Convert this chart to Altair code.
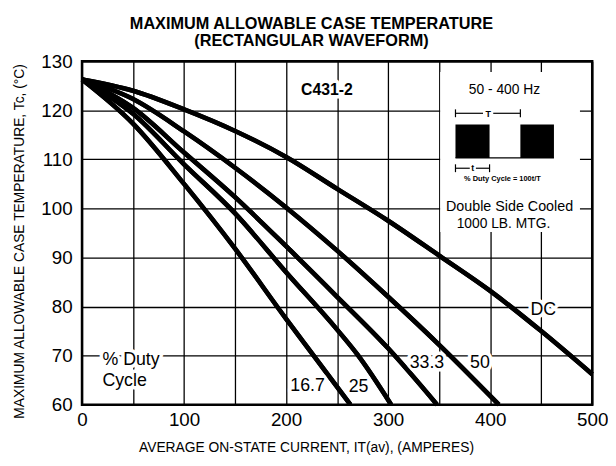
import altair as alt
import pandas as pd

# ---- data ----
current_dc = [0, 50, 100, 150, 200, 250, 300, 350, 400, 450, 500]
temp_dc = [126.3, 124.0, 120.2, 115.8, 110.5, 104.0, 97.5, 90.4, 83.2, 75.0, 66.2]
current_50 = [0, 50, 100, 150, 200, 250, 300, 350, 400, 408.5]
temp_50 = [126.3, 122.3, 115.7, 108.3, 100.2, 91.4, 82.0, 72.2, 61.8, 60.0]
current_333 = [0, 50, 100, 150, 200, 250, 300, 348]
temp_333 = [126.3, 120.5, 111.4, 102.3, 92.3, 82.0, 71.5, 60.0]
current_25 = [0, 50, 100, 150, 200, 250, 270, 303]
temp_25 = [126.3, 119.3, 109.0, 99.0, 87.0, 75.3, 70.2, 60.0]
current_167 = [0, 50, 100, 150, 200, 227, 263]
temp_167 = [126.3, 117.3, 105.0, 91.8, 77.5, 70.0, 60.0]

series_names = ["DC", "50", "33.3", "25", "16.7"]
x_ticks = list(range(0, 501, 50))
y_ticks = list(range(60, 131, 10))

FONT = "Liberation Sans"

rows = []
for name, xs_, ys_ in zip(series_names,
                          [current_dc, current_50, current_333, current_25, current_167],
                          [temp_dc, temp_50, temp_333, temp_25, temp_167]):
    for i, (a, b) in enumerate(zip(xs_, ys_)):
        rows.append({"series": name, "order": i, "current": a, "temp": b})
curves = pd.DataFrame(rows)

xs = alt.Scale(domain=[0, 500], nice=False, zero=False)
ys = alt.Scale(domain=[60, 130], nice=False, zero=False)

# annotation labels (anchor positions in data units)
labels = pd.DataFrame([
    {"text": "DC", "x": 452, "y": 79.2, "size": 18},
    {"text": "50", "x": 390, "y": 68.5, "size": 18},
    {"text": "33.3", "x": 338, "y": 68.5, "size": 18},
    {"text": "25", "x": 271, "y": 63.6, "size": 18},
    {"text": "16.7", "x": 221, "y": 63.8, "size": 18},
    {"text": "Double Side Cooled", "x": 419, "y": 100.2, "size": 14.5},
    {"text": "1000 LB. MTG.", "x": 413, "y": 96.9, "size": 14},
    {"text": "50 - 400 Hz", "x": 414, "y": 124.2, "size": 14},
])
left_labels = pd.DataFrame([
    {"text": "% Duty", "x": 20, "y": 69.0, "size": 18},
    {"text": "Cycle", "x": 20, "y": 64.8, "size": 18},
])
bold_labels = pd.DataFrame([
    {"text": "C431-2", "x": 240, "y": 124.2, "size": 16},
])
small_labels = pd.DataFrame([
    {"text": "% Duty Cycle = 100t/T", "x": 412, "y": 106.1, "size": 7.5},
    {"text": "T", "x": 398, "y": 119.3, "size": 9},
    {"text": "t", "x": 383, "y": 108.2, "size": 9},
])

box = pd.DataFrame([{"x": 351, "x2": 488, "y": 95.2, "y2": 127.8}])
pulses = pd.DataFrame([
    {"x": 366, "x2": 399.4, "y": 110.3, "y2": 117.1},
    {"x": 429.6, "x2": 462.5, "y": 110.3, "y2": 117.1},
])
hlines = pd.DataFrame([
    {"x": 366, "x2": 462.5, "y": 110.3},
    {"x": 366, "x2": 393, "y": 119.4},
    {"x": 403, "x2": 429.6, "y": 119.4},
    {"x": 366, "x2": 380, "y": 108.2},
    {"x": 386, "x2": 399.4, "y": 108.2},
])
vticks = pd.DataFrame([
    {"x": 366, "y": 118.6, "y2": 120.2},
    {"x": 429.6, "y": 118.6, "y2": 120.2},
    {"x": 366, "y": 107.4, "y2": 109.0},
    {"x": 399.4, "y": 107.4, "y2": 109.0},
])

base_lines = alt.Chart(curves).mark_line(
    color="black", strokeWidth=4.6, interpolate="monotone", strokeCap="butt"
).encode(
    x=alt.X("current:Q", scale=xs,
            axis=alt.Axis(values=x_ticks,
                          labelExpr="datum.value % 100 == 0 ? datum.label : ''",
                          title="AVERAGE ON-STATE CURRENT, IT(av), (AMPERES)",
                          titleX=227, titleY=36)),
    y=alt.Y("temp:Q", scale=ys,
            axis=alt.Axis(values=y_ticks,
                          title="MAXIMUM ALLOWABLE CASE TEMPERATURE, Tc, (°C)",
                          titleX=-56, titleY=182)),
    detail="series:N",
    order="order:Q",
)

white_box = alt.Chart(box).mark_rect(color="white").encode(
    x=alt.X("x:Q", scale=xs), x2="x2", y=alt.Y("y:Q", scale=ys), y2="y2")


def text_layer(df, halo, align="center", weight="normal"):
    kw = dict(font=FONT, align=align, baseline="middle", fontWeight=weight)
    if halo:
        kw.update(stroke="white", strokeWidth=7, color="white", strokeJoin="round")
    else:
        kw.update(color="black")
    return alt.Chart(df).mark_text(**kw).encode(
        x=alt.X("x:Q", scale=xs), y=alt.Y("y:Q", scale=ys),
        text="text:N", size=alt.Size("size:Q", scale=None, legend=None))


pulse_rects = alt.Chart(pulses).mark_rect(color="black").encode(
    x=alt.X("x:Q", scale=xs), x2="x2", y=alt.Y("y:Q", scale=ys), y2="y2")
hrules = alt.Chart(hlines).mark_rule(color="black", strokeWidth=1.2).encode(
    x=alt.X("x:Q", scale=xs), x2="x2", y=alt.Y("y:Q", scale=ys))
vrules = alt.Chart(vticks).mark_rule(color="black", strokeWidth=1.2).encode(
    x=alt.X("x:Q", scale=xs), y=alt.Y("y:Q", scale=ys), y2="y2")

chart = alt.layer(
    base_lines,
    white_box,
    text_layer(labels, True),
    text_layer(left_labels, True, align="left"),
    text_layer(bold_labels, True, weight="bold"),
    base_lines,
    pulse_rects, hrules, vrules,
    text_layer(labels, False),
    text_layer(left_labels, False, align="left"),
    text_layer(bold_labels, False, weight="bold"),
    text_layer(small_labels, False, weight="bold"),
).properties(
    width=517, height=348,
    title=alt.TitleParams(
        ["MAXIMUM ALLOWABLE CASE TEMPERATURE", "(RECTANGULAR WAVEFORM)"],
        font=FONT, fontSize=16.5, fontWeight="bold", lineHeight=17,
        anchor="middle", dx=-26, offset=3, color="black"),
    autosize=alt.AutoSizeParams(type="none"),
    padding={"left": 75, "top": 51, "right": 16, "bottom": 50},
).configure_view(
    stroke="black", strokeWidth=2.5
).configure_axis(
    grid=True, gridColor="black", gridWidth=1.3, gridOpacity=1,
    ticks=False, domain=False,
    labelFont=FONT, labelFontSize=19, labelColor="black", labelFlush=False,
    titleFont=FONT, titleFontSize=14, titleFontWeight="normal", titleColor="black",
).configure_axisY(labelPadding=10).configure_axisX(labelPadding=6)

chart.save("out.html", embed_options={"renderer": "svg", "actions": False})
